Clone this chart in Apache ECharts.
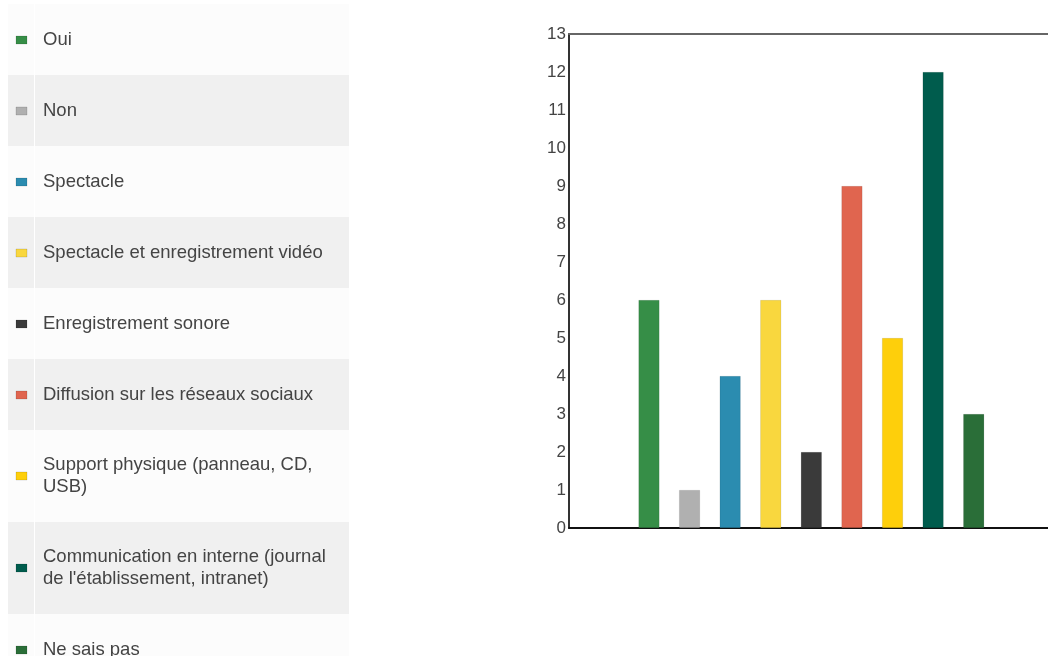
<!DOCTYPE html>
<html>
<head>
<meta charset="utf-8">
<script src="https://cdn.jsdelivr.net/npm/echarts@6/dist/echarts.min.js"></script>
<style>
  html, body { margin: 0; padding: 0; background: #ffffff; }
  #chart { width: 1048px; height: 656px; }
</style>
</head>
<body>
<div id="chart"></div>
<script>
// Answer categories (legend text, wrapped where the cell is too narrow)
const categories = [
  'Oui',
  'Non',
  'Spectacle',
  'Spectacle et enregistrement vidéo',
  'Enregistrement sonore',
  'Diffusion sur les réseaux sociaux',
  'Support physique (panneau, CD,\nUSB)',
  "Communication en interne (journal\nde l'établissement, intranet)",
  'Ne sais pas'
];
// Number of answers per category
const counts = [6, 1, 4, 6, 2, 9, 5, 12, 3];
// One colour per category
const colors = ['#368e47', '#b0b0b0', '#2b8cb0', '#f9d73e', '#3a3a3a', '#e0654f', '#fecf0b', '#005c4d', '#2a6e38'];
// Y axis ticks
const yTicks = [0, 1, 2, 3, 4, 5, 6, 7, 8, 9, 10, 11, 12, 13];

const FONT = '"Liberation Sans", Arial, sans-serif';
const chart = echarts.init(document.getElementById('chart'), null, { renderer: 'canvas' });

// Legend table on the left: alternating row shading, marker cell + label cell
const legendGraphics = [];
let rowTop = 4;
categories.forEach((name, i) => {
  const lines = name.split('\n').length;
  const h = 50 + 21 * lines;
  const fill = i % 2 === 1 ? '#f0f0f0' : '#fcfcfc';
  const cy = rowTop + h / 2;
  legendGraphics.push(
    { type: 'rect', silent: true, shape: { x: 8, y: rowTop, width: 26, height: h }, style: { fill } },
    { type: 'rect', silent: true, shape: { x: 35, y: rowTop, width: 314, height: h }, style: { fill } },
    { type: 'rect', silent: true, shape: { x: 16, y: Math.round(cy) - 4, width: 11, height: 8 },
      style: { fill: colors[i], stroke: 'rgba(0,0,0,0.12)', lineWidth: 1 } },
    { type: 'text', silent: true, x: 43, y: cy,
      style: { text: name, fill: '#444444', font: '18.5px ' + FONT,
               lineHeight: 22, verticalAlign: 'middle', align: 'left' } }
  );
  rowTop += h;
});

const hiddenParts = { axisTick: { show: false }, axisLabel: { show: false }, splitLine: { show: false } };

chart.setOption({
  animation: false,
  backgroundColor: '#ffffff',
  grid: { left: 569, right: 0, top: 34, bottom: 128 },
  xAxis: [
    Object.assign({
      type: 'value', min: -1.97, max: 9.83, position: 'bottom',
      axisLine: { show: true, onZero: false, lineStyle: { color: '#111111', width: 2 } }
    }, hiddenParts),
    Object.assign({
      type: 'value', min: -1.97, max: 9.83, position: 'top',
      axisLine: { show: true, onZero: false, lineStyle: { color: '#666666', width: 2 } }
    }, hiddenParts)
  ],
  yAxis: {
    type: 'value', min: yTicks[0], max: yTicks[yTicks.length - 1], interval: 1,
    position: 'left',
    axisLine: { show: true, onZero: false, lineStyle: { color: '#333333', width: 2 } },
    axisTick: { show: false },
    splitLine: { show: false },
    axisLabel: { color: '#444444', fontSize: 17, margin: 3, fontFamily: FONT }
  },
  series: [{
    type: 'bar',
    xAxisIndex: 0,
    barWidth: 21,
    data: counts.map((v, i) => ({
      value: [i, v],
      itemStyle: { color: colors[i], borderColor: 'rgba(0,0,0,0.15)', borderWidth: 0.6 }
    }))
  }],
  graphic: legendGraphics
});
</script>
</body>
</html>
